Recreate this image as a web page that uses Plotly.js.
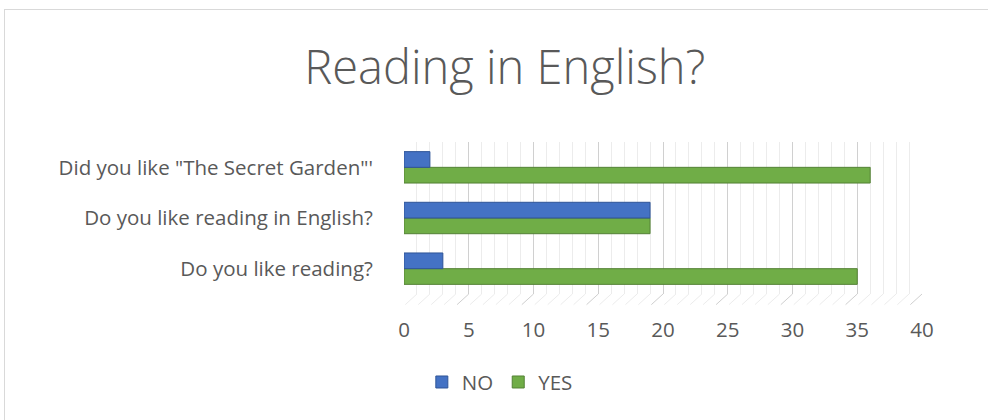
<!DOCTYPE html>
<html>
<head>
<meta charset="utf-8">
<script src="https://cdn.plot.ly/plotly-3.0.1.min.js"></script>
<style>
  body { margin: 0; background: #fff; overflow: hidden; }
  #frame { position: absolute; left: 4px; top: 9px; width: 1000px; height: 420px; border: 1px solid #d9d9d9; }
  #chart { position: absolute; left: 0; top: 0; width: 988px; height: 420px; }
</style>
</head>
<body>
<div id="frame"></div>
<div id="chart"></div>
<script>
const questions = ['Do you like reading?', 'Do you like reading in English?', 'Did you like "The Secret Garden"\'']
const no = [3, 19, 2]
const yes = [35, 19, 36]
const xTicks = [0, 5, 10, 15, 20, 25, 30, 35, 40]

const labelFont = { family: '"Open Sans", Lato, sans-serif', size: 20.5, color: '#595959' }

var yesTrace = {
  y: questions,
  x: yes,
  name: 'YES',
  type: 'bar',
  orientation: 'h',
  marker: { color: '#70ad47', line: { color: '#548235', width: 1 } },
  legendrank: 2
}

var noTrace = {
  y: questions,
  x: no,
  name: 'NO',
  type: 'bar',
  orientation: 'h',
  marker: { color: '#4472c4', line: { color: '#2f5597', width: 1 } },
  legendrank: 1
}

// light "floor" hatching under the plot, one slanted stroke per unit
var floor = []
for (let v = 0; v <= 40; v++) {
  floor.push({
    type: 'line',
    xref: 'x',
    yref: 'paper',
    x0: v,
    x1: v - 0.9,
    y0: 0,
    y1: -0.07,
    line: { color: v % 5 === 0 ? '#cfcfcf' : '#ececec', width: 1 }
  })
}

var layout = {
  width: 988,
  height: 420,
  paper_bgcolor: 'rgba(0,0,0,0)',
  plot_bgcolor: 'rgba(0,0,0,0)',
  margin: { l: 404, r: 66, t: 142, b: 126 },
  barmode: 'group',
  bargap: 0.38,
  bargroupgap: 0,
  title: {
    text: 'Reading in English?',
    x: 0.511,
    xanchor: 'center',
    y: 0.84,
    yanchor: 'middle',
    font: { family: '"Open Sans", Lato, sans-serif', size: 47, color: '#595959', weight: 300 }
  },
  xaxis: {
    range: [0, 40],
    tickvals: xTicks,
    ticks: 'outside',
    ticklen: 17,
    tickcolor: 'rgba(0,0,0,0)',
    tickfont: labelFont,
    showgrid: true,
    gridcolor: '#d0d0d0',
    gridwidth: 1,
    minor: { dtick: 1, showgrid: true, gridcolor: '#ececec', gridwidth: 1 },
    zeroline: false,
    showline: false,
    fixedrange: true
  },
  yaxis: {
    ticks: 'outside',
    ticklen: 26,
    tickcolor: 'rgba(0,0,0,0)',
    tickfont: labelFont,
    showgrid: false,
    zeroline: false,
    showline: false,
    fixedrange: true
  },
  shapes: floor,
  showlegend: true,
  legend: {
    orientation: 'h',
    x: 0.185,
    xanchor: 'center',
    y: -0.58,
    yanchor: 'middle',
    font: labelFont,
    itemwidth: 30,
    traceorder: 'normal'
  }
}

Plotly.newPlot('chart', [yesTrace, noTrace], layout, { displayModeBar: false, staticPlot: true })
</script>
</body>
</html>
